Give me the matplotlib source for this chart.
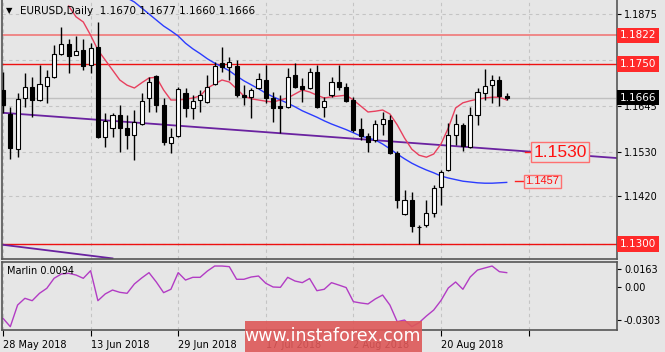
import matplotlib
matplotlib.use("Agg")
import matplotlib.pyplot as plt
from matplotlib.patches import Rectangle

W, H = 665, 352
BG = "#e6e6e6"

# ---------------- data ----------------
opens = [1.1685, 1.1625, 1.1538, 1.1665, 1.1693, 1.1660, 1.1695, 1.1718, 1.1775, 1.1800,
         1.1773, 1.1785, 1.1748, 1.1793, 1.1568, 1.1590, 1.1623, 1.1590, 1.1573, 1.1600,
         1.1665, 1.1720, 1.1648, 1.1553, 1.1570, 1.1678, 1.1640, 1.1660, 1.1655, 1.1700,
         1.1753, 1.1743, 1.1745, 1.1673, 1.1668, 1.1690, 1.1710, 1.1665, 1.1645, 1.1643,
         1.1723, 1.1695, 1.1690, 1.1730, 1.1643, 1.1673, 1.1705, 1.1693, 1.1660, 1.1588,
         1.1570, 1.1560, 1.1600, 1.1610, 1.1528, 1.1375, 1.1410, 1.1342, 1.1348, 1.1378,
         1.1443, 1.1485, 1.1573, 1.1598, 1.1543, 1.1623, 1.1678, 1.1698, 1.1710, 1.1670]
highs = [1.1730, 1.1643, 1.1678, 1.1728, 1.1718, 1.1748, 1.1735, 1.1798, 1.1843, 1.1813,
         1.1820, 1.1813, 1.1803, 1.1855, 1.1628, 1.1628, 1.1648, 1.1623, 1.1635, 1.1678,
         1.1718, 1.1723, 1.1665, 1.1590, 1.1693, 1.1690, 1.1673, 1.1685, 1.1723, 1.1755,
         1.1793, 1.1768, 1.1760, 1.1698, 1.1690, 1.1728, 1.1748, 1.1680, 1.1673, 1.1740,
         1.1753, 1.1715, 1.1740, 1.1748, 1.1668, 1.1718, 1.1748, 1.1703, 1.1668, 1.1615,
         1.1578, 1.1610, 1.1630, 1.1623, 1.1532, 1.1435, 1.1430, 1.1348, 1.1410, 1.1448,
         1.1485, 1.1603, 1.1625, 1.1603, 1.1643, 1.1690, 1.1738, 1.1723, 1.1720, 1.1677]
lows = [1.1628, 1.1513, 1.1518, 1.1643, 1.1618, 1.1658, 1.1653, 1.1715, 1.1773, 1.1728,
        1.1772, 1.1735, 1.1728, 1.1565, 1.1543, 1.1568, 1.1530, 1.1538, 1.1510, 1.1598,
        1.1630, 1.1630, 1.1548, 1.1528, 1.1568, 1.1618, 1.1613, 1.1630, 1.1653, 1.1698,
        1.1730, 1.1710, 1.1668, 1.1648, 1.1615, 1.1688, 1.1653, 1.1605, 1.1578, 1.1640,
        1.1690, 1.1655, 1.1688, 1.1640, 1.1618, 1.1668, 1.1685, 1.1655, 1.1580, 1.1560,
        1.1530, 1.1555, 1.1573, 1.1525, 1.1390, 1.1372, 1.1330, 1.1300, 1.1343, 1.1368,
        1.1398, 1.1483, 1.1548, 1.1533, 1.1540, 1.1598, 1.1660, 1.1653, 1.1645, 1.1660]
closes = [1.1648, 1.1540, 1.1663, 1.1693, 1.1660, 1.1700, 1.1718, 1.1775, 1.1800, 1.1770,
          1.1783, 1.1745, 1.1790, 1.1568, 1.1608, 1.1623, 1.1590, 1.1573, 1.1605, 1.1658,
          1.1705, 1.1648, 1.1555, 1.1568, 1.1688, 1.1640, 1.1658, 1.1673, 1.1693, 1.1745,
          1.1743, 1.1755, 1.1673, 1.1668, 1.1685, 1.1713, 1.1665, 1.1640, 1.1640, 1.1718,
          1.1693, 1.1688, 1.1730, 1.1643, 1.1658, 1.1705, 1.1693, 1.1658, 1.1585, 1.1570,
          1.1555, 1.1600, 1.1613, 1.1528, 1.1410, 1.1410, 1.1345, 1.1343, 1.1378, 1.1440,
          1.1480, 1.1573, 1.1600, 1.1545, 1.1623, 1.1680, 1.1695, 1.1710, 1.1670, 1.1666]

red_ma_start = 9
red_ma = [1.1895, 1.1868, 1.1855, 1.1822, 1.1785, 1.1760, 1.1735, 1.1710, 1.1697, 1.1690,
          1.1703, 1.1715, 1.1717, 1.1685, 1.1660, 1.1660, 1.1662, 1.1665, 1.1670, 1.1690,
          1.1700, 1.1710, 1.1705, 1.1688, 1.1670, 1.1663, 1.1660, 1.1657, 1.1655, 1.1660,
          1.1665, 1.1675, 1.1685, 1.1680, 1.1672, 1.1665, 1.1668, 1.1670, 1.1672, 1.1660,
          1.1645, 1.1630, 1.1632, 1.1635, 1.1625, 1.1598, 1.1565, 1.1537, 1.1522, 1.1517,
          1.1525, 1.1550, 1.1590, 1.1640, 1.1653, 1.1658, 1.1662, 1.1665, 1.1667, 1.1667,
          1.1660]

blue_ma_start = 17
blue_ma = [1.1915, 1.1905, 1.1890, 1.1875, 1.1860, 1.1845, 1.1833, 1.1820, 1.1802, 1.1788,
           1.1776, 1.1763, 1.1752, 1.1743, 1.1733, 1.1720, 1.1708, 1.1698, 1.1688, 1.1677,
           1.1668, 1.1660, 1.1652, 1.1643, 1.1633, 1.1625, 1.1617, 1.1608, 1.1600, 1.1593,
           1.1586, 1.1578, 1.1570, 1.1565, 1.1560, 1.1550, 1.1538, 1.1525, 1.1513, 1.1502,
           1.1493, 1.1485, 1.1478, 1.1470, 1.1465, 1.1461, 1.1457, 1.1455, 1.1453, 1.1452,
           1.1452, 1.1453, 1.1454]

marlin = [-0.0288, -0.0365, -0.0166, -0.0104, -0.0126, -0.0058, -0.0012, 0.0080, 0.0120, 0.0126,
          0.0110, 0.0080, 0.0150, -0.0126, -0.0064, -0.0028, -0.0049, -0.0058, 0.0028, 0.0083,
          0.0132, 0.0046, -0.0052, -0.0021, 0.0132, 0.0064, 0.0089, 0.0089, 0.0147, 0.0193,
          0.0193, 0.0187, 0.0071, 0.0071, 0.0092, 0.0101, 0.0034, 0.0000, -0.0003, 0.0089,
          0.0055, 0.0040, 0.0078, -0.0034, -0.0021, 0.0040, 0.0018, -0.0005, -0.0135, -0.0147,
          -0.0156, -0.0110, -0.0074, -0.0166, -0.0319, -0.0304, -0.0365, -0.0328, -0.0267, -0.0212,
          -0.0124, -0.0009, 0.0046, -0.0021, 0.0092, 0.0156, 0.0175, 0.0193, 0.0141, 0.0132]

trend1_x = [0, 84]
trend1_y = [1.1628, 1.1515]
trend2_x = [0, 15]
trend2_y = [1.1298, 1.1264]

level_1822 = 1.1822
level_1750 = 1.1750
level_1300 = 1.1300
last_price = 1.1666
label_1530 = 1.1530
label_1457 = 1.1457

date_ticks = [0, 12, 24, 36, 48, 60, 72]
date_labels = ["28 May 2018", "13 Jun 2018", "29 Jun 2018", "17 Jul 2018",
               "2 Aug 2018", "20 Aug 2018", ""]
price_ticks = [1.1875, 1.1760, 1.1645, 1.1530, 1.1420, 1.1300]
price_labels = ["1.1875", "1.1760", "1.1645", "1.1530", "1.1420", ""]
marlin_ticks = [0.0163, 0.0, -0.0303]
marlin_labels = ["0.0163", "0.00", "-0.0303"]

title = "EURUSD,Daily  1.1670 1.1677 1.1660 1.1666"
marlin_title = "Marlin 0.0094"

# ---------------- layout ----------------
plt.rcParams['font.family'] = ['DejaVu Sans']
FS = 7
fig = plt.figure(figsize=(W / 100, H / 100), dpi=100, facecolor=BG)

def fbox(x0, y0, x1, y1):
    return [x0 / W, 1 - y1 / H, (x1 - x0) / W, (y1 - y0) / H]

px_per_bar = 7.3
xl = (-1 / px_per_bar, (617 - 3) / px_per_bar)

ax = fig.add_axes(fbox(2, 0, 617, 259), facecolor=BG)
ax2 = fig.add_axes(fbox(2, 262, 617, 330), facecolor=BG)

for a in (ax, ax2):
    a.set_xlim(*xl)
    for s in a.spines.values():
        s.set_color("#555555")
        s.set_linewidth(1.2)
    a.set_xticks(date_ticks)
    a.grid(True, axis='x', color="#c4c4c4", linestyle=(0, (3, 3)), linewidth=0.8)
    a.set_axisbelow(True)
    a.yaxis.tick_right()
    a.tick_params(axis='y', length=3, width=0.8, labelsize=FS, pad=2, colors="#000000")

ax.set_ylim(1.1910 - 259 * 0.00025, 1.1910)
ax.spines['top'].set_visible(False)
ax.set_yticks(price_ticks)
ax.set_yticklabels(price_labels)
ax.grid(True, axis='y', color="#c4c4c4", linestyle=(0, (3, 3)), linewidth=0.8)
ax.tick_params(axis='x', length=0, labelbottom=False)

ax2.set_ylim((287 - 330) * 0.00092, (287 - 262) * 0.00092)
ax2.set_yticks(marlin_ticks)
ax2.set_yticklabels(marlin_labels)
ax2.set_xticklabels(date_labels)
ax2.tick_params(axis='x', length=4, width=0.8, labelsize=FS, pad=3)
for lab in ax2.get_xticklabels():
    lab.set_ha('left')

# horizontal levels
ax.axhline(level_1822, color="#f07878", lw=1.2, zorder=1)
ax.axhline(level_1750, color="#ee1111", lw=1.0, zorder=1)
ax.axhline(level_1300, color="#ee1111", lw=1.0, zorder=1)
ax.axhline(last_price, color="#c0c0c0", lw=1.0, zorder=1)

# trend lines
ax.plot(trend1_x, trend1_y, color="#6a22a0", lw=1.3, zorder=2)
ax.plot(trend2_x, trend2_y, color="#6a22a0", lw=1.3, zorder=2)

# moving averages
ax.plot(range(blue_ma_start, blue_ma_start + len(blue_ma)), blue_ma, color="#2b3cff", lw=1.0, zorder=2)
ax.plot(range(red_ma_start, red_ma_start + len(red_ma)), red_ma, color="#e8405e", lw=1.0, zorder=2)

# candles
bw = 0.55
for i, (o, h, l, c) in enumerate(zip(opens, highs, lows, closes)):
    ax.vlines(i, l, h, color="black", lw=1.0, zorder=3)
    bot = min(o, c)
    hgt = max(abs(c - o), 0.00006)
    fill = "white" if c > o else "black"
    ax.bar(i, hgt, bottom=bot, width=bw, color=fill, edgecolor="black", lw=0.8, zorder=4)

# right-side price label boxes
def side_label(val, fc, tc="white"):
    ax.annotate(f"{val:.4f}", xy=(1.0, val), xycoords=('axes fraction', 'data'),
                xytext=(2, 0), textcoords='offset points', va='center', ha='left',
                fontsize=FS + 0.5, color=tc, annotation_clip=False, zorder=10,
                bbox=dict(boxstyle='square,pad=0.25', fc=fc, ec='none'))

side_label(level_1822, "#ff2a2a")
side_label(level_1750, "#ff2a2a")
side_label(last_price, "#000000")
side_label(level_1300, "#ff2a2a")

# chart labels 1.1530 and 1.1457
ax.plot([71.5, 72.5], [label_1530, label_1530], color="#ff2020", lw=1.0, zorder=5)
ax.text(76.3, label_1530, f"{label_1530:.4f}", fontsize=12.5, color="#ff1010",
        family="Liberation Sans", ha='center', va='center', zorder=6,
        bbox=dict(boxstyle='square,pad=0.12', fc=BG, ec="#ff7070", lw=1.0))
ax.plot([70.1, 71.2], [label_1457, label_1457], color="#ff2020", lw=1.0, zorder=5)
ax.text(73.9, label_1457, f"{label_1457:.4f}", fontsize=8, color="#ff1010",
        family="Liberation Sans", ha='center', va='center', zorder=6,
        bbox=dict(boxstyle='square,pad=0.15', fc=BG, ec="#ff7070", lw=1.0))

# Marlin line
ax2.plot(range(len(marlin)), marlin, color="#b23cc4", lw=1.0)
ax2.text(5 / 615, (330 - 271) / 68, marlin_title, transform=ax2.transAxes,
         fontsize=FS, va='center', ha='left')

# title
fig.text(6 / W, 1 - 11 / H, "\u25BC", fontsize=6, va='center', ha='left')
fig.text(20 / W, 1 - 11.5 / H, title, fontsize=FS + 0.5, va='center', ha='left')

# watermark
fig.patches.append(Rectangle((245 / W, 0), (422 - 245) / W, (352 - 321) / H,
                             transform=fig.transFigure, fc="#de5858", ec='none',
                             alpha=0.9, zorder=20))
fig.text(333 / W, 1 - 336 / H, "www.instaforex.com", fontsize=12.5, color="white",
         ha='center', va='center', zorder=21)

fig.savefig("out.png", dpi=100, facecolor=BG)
